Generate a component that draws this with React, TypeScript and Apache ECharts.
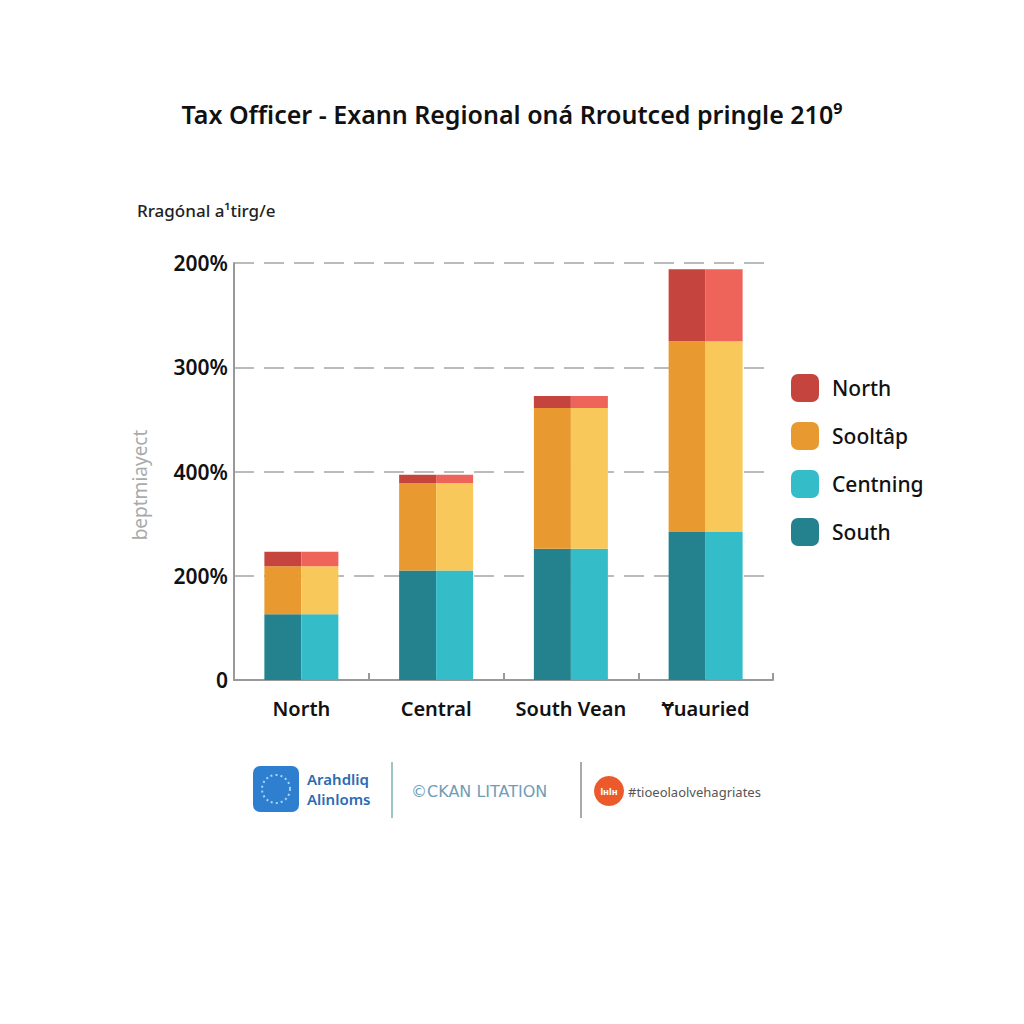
import React, { useEffect, useRef } from "react";
import * as echarts from "echarts";

const categories = ["North", "Central", "South Vean", "Ɏuauried"];
const southValues = [63, 105, 126, 142];
const middleValues = [46, 84, 135, 183];
const northValues = [14, 8, 11.5, 69];
const yTickLabels: Record<number, string> = { 0: "0", 100: "200%", 200: "400%", 300: "300%", 400: "200%" };
const legendNames = ["North", "Sooltâp", "Centning", "South"];

const FONT = "'Noto Sans', 'DejaVu Sans', sans-serif";

export default function App() {
  const ref = useRef<HTMLDivElement>(null);
  useEffect(() => {
    if (!ref.current) return;
    const chart = echarts.init(ref.current, undefined, { renderer: "svg" });
    const mk = (name: string, stack: string, data: number[], color: string) => ({
      name,
      type: "bar",
      stack,
      data,
      barWidth: 37,
      barGap: "0%",
      itemStyle: { color },
      emphasis: { disabled: true },
    });
    chart.setOption({
      animation: false,
      backgroundColor: "#ffffff",
      title: {
        text: "Tax Officer - Exann Regional oná Rroutced pringle 210⁹",
        left: "center",
        top: 96,
        textStyle: { fontFamily: FONT, fontSize: 25, fontWeight: 600, color: "#111" },
      },
      legend: {
        data: legendNames,
        orient: "vertical",
        left: 786,
        top: 369,
        itemWidth: 28,
        itemHeight: 28,
        itemGap: 20,
        icon: "roundRect",
        textStyle: { fontFamily: FONT, fontSize: 21, fontWeight: 500, color: "#111", padding: [0, 0, 0, 8] },
      },
      grid: { left: 234, right: 251, top: 263, bottom: 344 },
      xAxis: {
        type: "category",
        data: categories,
        axisLine: { lineStyle: { color: "#999", width: 2 } },
        axisTick: { show: true, inside: true, length: 7, lineStyle: { color: "#999", width: 2 } },
        axisLabel: { interval: 0, fontFamily: FONT, fontSize: 20, fontWeight: 600, color: "#111", margin: 18 },
      },
      yAxis: {
        type: "value",
        min: 0,
        max: 400,
        interval: 100,
        axisLine: { show: true, lineStyle: { color: "#999", width: 2 } },
        axisTick: { show: false },
        axisLabel: {
          fontFamily: FONT,
          fontSize: 21,
          fontWeight: 600,
          color: "#111",
          margin: 6,
          formatter: (v: number) => yTickLabels[v] ?? "",
        },
        splitLine: { lineStyle: { color: "#bbb", width: 2, type: [20, 10] } },
      },
      series: [
        mk("South", "left", southValues, "#23828d"),
        mk("Sooltâp", "left", middleValues, "#e89a30"),
        mk("North", "left", northValues, "#c6443e"),
        mk("Centning", "right", southValues, "#35bcc9"),
        mk("Sooltâp ", "right", middleValues, "#f8c85a"),
        mk("North ", "right", northValues, "#ee635a"),
      ],
      graphic: [
        {
          type: "text",
          left: 137,
          top: 202,
          style: { text: "Rragónal a¹tirg/e", fontFamily: FONT, fontSize: 17, fontWeight: 500, fill: "#222" },
        },
        {
          type: "text",
          x: 140,
          y: 485,
          rotation: Math.PI / 2,
          style: {
            text: "beptmiayect",
            fontFamily: FONT,
            fontSize: 19,
            fill: "#aaa",
            align: "center",
            verticalAlign: "middle",
          },
        },
        { type: "rect", shape: { x: 253, y: 766, width: 46, height: 46, r: 7 }, style: { fill: "#2f7fd0" } },
        { type: "circle", shape: { cx: 276, cy: 789, r: 14 }, style: { fill: "none", stroke: "#a9d6f5", lineWidth: 2, lineDash: [2, 3] } },
        {
          type: "text",
          x: 307,
          y: 779,
          style: { text: "Arahdliq", fontFamily: FONT, fontSize: 15, lineHeight: 17, fontWeight: 600, fill: "#2a6bb5", verticalAlign: "middle" },
        },
        {
          type: "text",
          x: 307,
          y: 799,
          style: { text: "Alinloms", fontFamily: FONT, fontSize: 15, lineHeight: 17, fontWeight: 600, fill: "#2a6bb5", verticalAlign: "middle" },
        },
        { type: "line", shape: { x1: 392, y1: 762, x2: 392, y2: 818 }, style: { stroke: "#9cc6c6", lineWidth: 2 } },
        {
          type: "text",
          x: 411,
          y: 791,
          style: { text: "©CKAN LITATION", fontFamily: "'DejaVu Sans', sans-serif", fontSize: 16, fill: "#6f9db8", verticalAlign: "middle" },
        },
        { type: "line", shape: { x1: 581, y1: 762, x2: 581, y2: 818 }, style: { stroke: "#aaa", lineWidth: 2 } },
        { type: "circle", shape: { cx: 609, cy: 791, r: 15 }, style: { fill: "#ec5a2c" } },
        {
          type: "text",
          x: 609,
          y: 791,
          style: { text: "lнlн", fontFamily: FONT, fontSize: 9, fontWeight: 700, fill: "#fff", align: "center", verticalAlign: "middle" },
        },
        {
          type: "text",
          x: 628,
          y: 792,
          style: { text: "#tioeolaolvehagriates", fontFamily: FONT, fontSize: 13, fill: "#555", verticalAlign: "middle" },
        },
      ],
    });
    return () => chart.dispose();
  }, []);
  return (
    <div
      ref={ref}
      style={{ position: "fixed", left: 0, top: 0, width: 1024, height: 1024, background: "#fff" }}
    />
  );
}
